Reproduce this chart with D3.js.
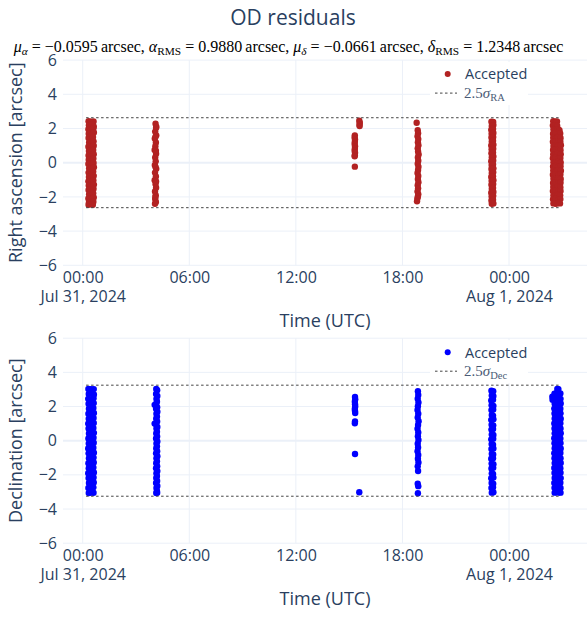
<!DOCTYPE html>
<html><head><meta charset="utf-8">
<script src="https://cdn.jsdelivr.net/npm/d3@7"></script>
<style>body{margin:0;background:#fff}svg{display:block}</style>
</head><body>
<svg id="chart" width="587" height="618"></svg>
<script>
// ---------- DATA (hours since 2024-07-31 00:00 UTC, residual in arcsec) ----------
const raPass1 = [[0.33,2.42],[0.47,2.40],[0.61,2.41],[0.35,2.19],[0.50,2.25],[0.62,2.12],[0.32,1.96],[0.45,1.88],[0.60,2.01],[0.34,1.70],[0.52,1.62],[0.63,1.77],[0.33,1.45],[0.48,1.38],[0.58,1.51],[0.36,1.18],[0.46,1.09],[0.61,1.25],[0.32,0.93],[0.51,0.86],[0.62,0.99],[0.35,0.68],[0.44,0.60],[0.59,0.74],[0.33,0.42],[0.49,0.35],[0.62,0.50],[0.34,0.17],[0.47,0.09],[0.60,0.24],[0.32,-0.08],[0.53,-0.15],[0.61,-0.02],[0.36,-0.33],[0.45,-0.41],[0.63,-0.27],[0.33,-0.58],[0.50,-0.66],[0.59,-0.52],[0.35,-0.84],[0.47,-0.91],[0.62,-0.77],[0.32,-1.09],[0.52,-1.15],[0.60,-1.02],[0.34,-1.34],[0.46,-1.41],[0.63,-1.28],[0.33,-1.59],[0.49,-1.66],[0.61,-1.53],[0.36,-1.84],[0.45,-1.92],[0.59,-1.78],[0.32,-2.09],[0.51,-2.16],[0.62,-2.03],[0.35,-2.33],[0.48,-2.42],[0.60,-2.28],[0.33,-2.46],[0.57,-2.46]];
const raPass2 = [[4.10,2.28],[4.13,2.05],[4.08,1.82],[4.14,1.60],[4.06,1.41],[4.12,1.18],[4.09,0.96],[4.05,0.74],[4.13,0.52],[4.08,0.30],[4.11,0.08],[4.06,-0.14],[4.14,-0.36],[4.07,-0.58],[4.12,-0.80],[4.05,-1.02],[4.10,-1.24],[4.13,-1.46],[4.07,-1.68],[4.11,-1.90],[4.08,-2.12],[4.12,-2.30],[4.07,-2.40],[4.14,2.10],[4.09,1.50],[4.12,0.70],[4.10,-0.25],[4.13,-1.10],[4.09,-2.00]];
const raPass3 = [[15.57,2.45],[15.60,2.34],[15.58,2.22],[15.59,2.14],[15.32,1.60],[15.31,1.48],[15.33,1.36],[15.32,1.22],[15.31,1.10],[15.33,0.96],[15.32,0.82],[15.31,0.70],[15.33,0.58],[15.32,0.44],[15.31,0.38],[15.32,-0.23]];
const raPass4 = [[18.80,2.34],[18.86,1.90],[18.88,1.72],[18.85,1.55],[18.89,1.38],[18.87,1.20],[18.90,1.02],[18.86,0.84],[18.88,0.66],[18.91,0.48],[18.87,0.30],[18.89,0.12],[18.86,-0.06],[18.90,-0.24],[18.88,-0.42],[18.85,-0.60],[18.89,-0.78],[18.87,-0.96],[18.90,-1.14],[18.86,-1.32],[18.88,-1.50],[18.85,-1.68],[18.89,-1.84],[18.87,-1.98],[18.84,-2.10],[18.82,-2.26]];
const raPass5 = [[23.01,2.40],[23.11,2.38],[23.03,2.15],[23.12,2.20],[23.00,1.92],[23.10,1.97],[23.02,1.70],[23.12,1.74],[23.01,1.47],[23.11,1.51],[23.03,1.24],[23.10,1.28],[23.00,1.01],[23.12,1.05],[23.02,0.78],[23.11,0.82],[23.01,0.55],[23.10,0.59],[23.03,0.32],[23.12,0.36],[23.00,0.09],[23.11,0.13],[23.02,-0.14],[23.10,-0.10],[23.01,-0.37],[23.12,-0.33],[23.03,-0.60],[23.11,-0.56],[23.00,-0.83],[23.10,-0.79],[23.02,-1.06],[23.12,-1.02],[23.01,-1.29],[23.11,-1.25],[23.03,-1.52],[23.10,-1.48],[23.00,-1.75],[23.12,-1.71],[23.02,-1.98],[23.11,-1.94],[23.01,-2.21],[23.10,-2.17],[23.03,-2.40],[23.12,-2.38]];
const raPass6 = [[26.49,2.42],[26.60,2.40],[26.70,2.41],[26.47,2.18],[26.61,2.20],[26.71,2.16],[26.50,1.94],[26.63,1.92],[26.76,1.96],[26.84,1.90],[26.48,1.70],[26.62,1.73],[26.77,1.68],[26.88,1.71],[26.49,1.46],[26.64,1.44],[26.75,1.48],[26.90,1.45],[26.47,1.22],[26.61,1.25],[26.78,1.20],[26.89,1.23],[26.50,0.98],[26.63,0.96],[26.76,1.00],[26.92,1.02],[26.48,0.74],[26.62,0.77],[26.77,0.72],[26.90,0.75],[26.49,0.50],[26.64,0.48],[26.75,0.52],[26.91,0.49],[26.47,0.26],[26.61,0.29],[26.78,0.24],[26.89,0.27],[26.50,0.02],[26.63,0.00],[26.76,0.04],[26.91,0.01],[26.48,-0.22],[26.62,-0.19],[26.77,-0.24],[26.90,-0.21],[26.49,-0.46],[26.64,-0.48],[26.75,-0.44],[26.92,-0.47],[26.47,-0.70],[26.61,-0.67],[26.78,-0.72],[26.89,-0.69],[26.50,-0.94],[26.63,-0.96],[26.76,-0.92],[26.91,-0.95],[26.48,-1.18],[26.62,-1.15],[26.77,-1.20],[26.90,-1.17],[26.49,-1.42],[26.64,-1.44],[26.75,-1.40],[26.89,-1.43],[26.47,-1.66],[26.61,-1.63],[26.78,-1.68],[26.90,-1.65],[26.50,-1.90],[26.63,-1.92],[26.76,-1.88],[26.88,-1.91],[26.48,-2.14],[26.62,-2.11],[26.77,-2.16],[26.89,-2.13],[26.50,-2.38],[26.64,-2.40],[26.78,-2.36],[26.87,-2.38]];

const decPass1 = [[0.32,3.03],[0.47,3.01],[0.62,3.02],[0.34,2.74],[0.49,2.78],[0.63,2.71],[0.31,2.45],[0.46,2.40],[0.61,2.49],[0.33,2.16],[0.51,2.12],[0.62,2.20],[0.35,1.87],[0.45,1.82],[0.60,1.91],[0.32,1.58],[0.48,1.53],[0.63,1.62],[0.34,1.29],[0.50,1.24],[0.61,1.33],[0.31,1.00],[0.46,0.95],[0.62,1.04],[0.33,0.71],[0.52,0.66],[0.60,0.75],[0.35,0.42],[0.47,0.37],[0.63,0.46],[0.32,0.13],[0.49,0.08],[0.61,0.17],[0.34,-0.16],[0.45,-0.21],[0.62,-0.12],[0.31,-0.45],[0.50,-0.50],[0.60,-0.41],[0.33,-0.74],[0.48,-0.79],[0.63,-0.70],[0.35,-1.03],[0.46,-1.08],[0.61,-0.99],[0.32,-1.32],[0.51,-1.37],[0.62,-1.28],[0.34,-1.61],[0.47,-1.66],[0.60,-1.57],[0.31,-1.90],[0.49,-1.95],[0.63,-1.86],[0.33,-2.19],[0.45,-2.24],[0.61,-2.15],[0.35,-2.48],[0.50,-2.53],[0.62,-2.44],[0.32,-2.77],[0.48,-2.82],[0.60,-2.73],[0.34,-3.06],[0.47,-3.04],[0.61,-3.05]];
const decPass2 = [[4.14,3.03],[4.19,2.95],[4.13,2.74],[4.20,2.62],[4.15,2.45],[4.18,2.30],[4.05,2.10],[4.14,2.16],[4.19,1.96],[4.13,1.87],[4.20,1.70],[4.15,1.58],[4.18,1.41],[4.14,1.29],[4.19,1.12],[4.05,1.00],[4.13,0.96],[4.20,0.80],[4.15,0.71],[4.18,0.52],[4.14,0.42],[4.19,0.25],[4.13,0.13],[4.20,-0.04],[4.15,-0.16],[4.18,-0.33],[4.14,-0.45],[4.19,-0.62],[4.13,-0.74],[4.20,-0.91],[4.15,-1.03],[4.18,-1.20],[4.14,-1.32],[4.19,-1.49],[4.13,-1.61],[4.20,-1.78],[4.15,-1.90],[4.18,-2.07],[4.14,-2.19],[4.19,-2.36],[4.13,-2.48],[4.20,-2.65],[4.15,-2.77],[4.18,-2.94],[4.14,-3.06],[4.19,-3.04]];
const decPass3 = [[15.33,2.56],[15.34,2.42],[15.32,2.28],[15.33,2.14],[15.34,2.00],[15.32,1.86],[15.33,1.74],[15.34,1.62],[15.33,1.12],[15.32,1.02],[15.33,-0.78],[15.57,-3.02]];
const decPass4 = [[18.87,2.90],[18.89,2.68],[18.86,2.46],[18.90,2.24],[18.87,2.02],[18.85,1.80],[18.89,1.58],[18.86,1.36],[18.91,1.14],[18.88,0.92],[18.85,0.70],[18.89,0.48],[18.87,0.26],[18.90,0.04],[18.86,-0.18],[18.88,-0.40],[18.85,-0.62],[18.89,-0.84],[18.87,-1.06],[18.90,-1.28],[18.86,-1.50],[18.88,-1.77],[18.86,-2.52],[18.89,-2.66],[18.87,-3.08]];
const decPass5 = [[23.01,2.93],[23.11,2.90],[23.03,2.65],[23.12,2.61],[23.00,2.36],[23.10,2.40],[23.02,2.08],[23.12,2.04],[23.01,1.79],[23.11,1.83],[23.03,1.51],[23.10,1.47],[23.00,1.22],[23.12,1.26],[23.02,0.94],[23.11,0.90],[23.01,0.65],[23.10,0.69],[23.03,0.37],[23.12,0.33],[23.00,0.08],[23.11,0.12],[23.02,-0.20],[23.10,-0.24],[23.01,-0.49],[23.12,-0.45],[23.03,-0.77],[23.11,-0.81],[23.00,-1.06],[23.10,-1.02],[23.02,-1.34],[23.12,-1.38],[23.01,-1.63],[23.11,-1.59],[23.03,-1.91],[23.10,-1.95],[23.00,-2.20],[23.12,-2.16],[23.02,-2.48],[23.11,-2.52],[23.01,-2.77],[23.10,-2.73],[23.03,-3.04],[23.12,-3.02]];
const decPass6 = [[26.72,3.03],[26.78,3.02],[26.44,2.58],[26.45,2.40],[26.56,2.75],[26.67,2.78],[26.79,2.72],[26.89,2.76],[26.55,2.46],[26.68,2.43],[26.78,2.49],[26.90,2.45],[26.57,2.17],[26.66,2.20],[26.80,2.14],[26.91,2.18],[26.55,1.88],[26.67,1.85],[26.79,1.91],[26.89,1.87],[26.56,1.59],[26.68,1.62],[26.78,1.56],[26.90,1.60],[26.57,1.30],[26.66,1.27],[26.80,1.33],[26.91,1.29],[26.55,1.01],[26.67,1.04],[26.79,0.98],[26.89,1.02],[26.56,0.72],[26.68,0.69],[26.78,0.75],[26.90,0.71],[26.57,0.43],[26.66,0.46],[26.80,0.40],[26.91,0.44],[26.55,0.14],[26.67,0.11],[26.79,0.17],[26.89,0.13],[26.56,-0.15],[26.68,-0.12],[26.78,-0.18],[26.90,-0.14],[26.57,-0.44],[26.66,-0.47],[26.80,-0.41],[26.91,-0.45],[26.55,-0.73],[26.67,-0.70],[26.79,-0.76],[26.89,-0.72],[26.56,-1.02],[26.68,-1.05],[26.78,-0.99],[26.90,-1.03],[26.57,-1.31],[26.66,-1.28],[26.80,-1.34],[26.91,-1.30],[26.55,-1.60],[26.67,-1.63],[26.79,-1.57],[26.89,-1.61],[26.56,-1.89],[26.68,-1.86],[26.78,-1.92],[26.90,-1.88],[26.57,-2.18],[26.66,-2.21],[26.80,-2.15],[26.91,-2.19],[26.55,-2.47],[26.67,-2.44],[26.79,-2.50],[26.89,-2.46],[26.56,-2.76],[26.68,-2.79],[26.78,-2.73],[26.90,-2.77],[26.57,-3.04],[26.66,-3.02],[26.80,-3.03],[26.90,-3.04]];

const raThreshold = 2.63;       // 2.5 sigma RA band (arcsec)
const decThreshold = 3.25;      // 2.5 sigma Dec band (arcsec)
const bandSpan = [0.19, 26.83]; // hours covered by the dotted band lines

const xDomainHours = [-1.11, 28.39];
const xTickHours = [0, 6, 12, 18, 24];
const xTickLabels = ["00:00\nJul 31, 2024", "06:00", "12:00", "18:00", "00:00\nAug 1, 2024"];
const yTicks = [-6, -4, -2, 0, 2, 4, 6];
const yDomain = [-6, 6];

const titleText = "OD residuals";
const legendNames = ["Accepted"];
// ---------------------------------------------------------------------------------

const H = 3600e3, T0 = Date.UTC(2024, 6, 31);
const toDate = h => new Date(T0 + h * H);
const svg = d3.select("#chart");
const FONT = "'Open Sans', Verdana, Arial, sans-serif";
const SERIF = "'Liberation Serif', 'Times New Roman', serif";
const INK = "#2a3f5f";
const GRID = "#EBF0F8";

const x = d3.scaleUtc().domain(xDomainHours.map(toDate)).range([63, 587]);

svg.append("rect").attr("width", 587).attr("height", 618).attr("fill", "#fff");

// Title
svg.append("text").attr("x", 293).attr("y", 25).attr("text-anchor", "middle")
  .attr("font-family", FONT).attr("font-size", 21).attr("fill", INK).text(titleText);

// Subtitle (math-like)
const sub = svg.append("text").attr("x", 288.5).attr("y", 52).attr("text-anchor", "middle")
  .attr("font-family", SERIF).attr("font-size", 16).attr("fill", "#000");
function mathPiece(sym, subscr, subItalic, rest) {
  sub.append("tspan").attr("font-style", "italic").text(sym);
  sub.append("tspan").attr("font-style", subItalic ? "italic" : "normal").attr("font-size", 11.3)
    .attr("dy", 3).text(subscr);
  sub.append("tspan").attr("dy", -3).text(rest);
}
mathPiece("μ", "α", true, " = −0.0595\u2009arcsec, ");
mathPiece("α", "RMS", false, " = 0.9880\u2009arcsec, ");
mathPiece("μ", "δ", true, " = −0.0661\u2009arcsec, ");
mathPiece("δ", "RMS", false, " = 1.2348\u2009arcsec");

const panels = [
  { top: 60.1, bottom: 265.3, passes: [raPass1, raPass2, raPass3, raPass4, raPass5, raPass6],
    color: "#B22222", thr: raThreshold, yTitle: "Right ascension [arcsec]", sigSub: "RA" },
  { top: 338.2, bottom: 543.2, passes: [decPass1, decPass2, decPass3, decPass4, decPass5, decPass6],
    color: "#0000FF", thr: decThreshold, yTitle: "Declination [arcsec]", sigSub: "Dec" }
];

panels.forEach(p => {
  const y = d3.scaleLinear().domain(yDomain).range([p.bottom, p.top]);
  const g = svg.append("g");

  // grid
  g.selectAll(".hg").data(yTicks).join("line")
    .attr("x1", 63).attr("x2", 587).attr("y1", d => y(d)).attr("y2", d => y(d))
    .attr("stroke", GRID).attr("stroke-width", d => d === 0 ? 2 : 1);
  g.selectAll(".vg").data(xTickHours).join("line")
    .attr("x1", d => x(toDate(d))).attr("x2", d => x(toDate(d)))
    .attr("y1", p.top).attr("y2", p.bottom).attr("stroke", GRID).attr("stroke-width", 1);

  // points
  const pts = p.passes.flat();
  g.append("g").selectAll("circle").data(pts).join("circle")
    .attr("cx", d => x(toDate(d[0]))).attr("cy", d => y(d[1])).attr("r", 3.2)
    .attr("fill", p.color);

  // threshold lines
  [p.thr, -p.thr].forEach(t => {
    g.append("line").attr("x1", x(toDate(bandSpan[0]))).attr("x2", x(toDate(bandSpan[1])))
      .attr("y1", y(t)).attr("y2", y(t)).attr("stroke", "#444").attr("stroke-width", 1)
      .attr("stroke-dasharray", "2.5,2.5");
  });

  // y axis
  const ya = g.append("g").attr("transform", "translate(63,0)")
    .call(d3.axisLeft(y).tickValues(yTicks).tickSize(0).tickPadding(6).tickFormat(d3.format("d")));
  ya.select(".domain").remove();
  ya.selectAll("text").attr("font-family", FONT).attr("font-size", 16).attr("fill", INK);

  // x axis
  const xa = g.append("g").attr("transform", `translate(0,${p.bottom})`)
    .call(d3.axisBottom(x).tickValues(xTickHours.map(toDate)).tickSize(0).tickPadding(6)
      .tickFormat((d, i) => xTickLabels[i]));
  xa.select(".domain").remove();
  xa.selectAll("text").attr("font-family", FONT).attr("font-size", 16).attr("fill", INK)
    .each(function () {
      const t = d3.select(this); const lines = t.text().split("\n"); t.text(null);
      lines.forEach((l, k) => t.append("tspan").attr("x", 0).attr("dy", k === 0 ? "0.71em" : "1.23em").text(l));
    }).attr("dy", null);

  // axis titles
  g.append("text").attr("x", 325).attr("y", p.bottom + 62).attr("text-anchor", "middle")
    .attr("font-family", FONT).attr("font-size", 18).attr("fill", INK).text("Time (UTC)");
  g.append("text").attr("transform", `translate(21.5,${(p.top + p.bottom) / 2}) rotate(-90)`)
    .attr("text-anchor", "middle").attr("font-family", FONT).attr("font-size", 18).attr("fill", INK)
    .text(p.yTitle);

  // legend
  const lg = g.append("g");
  lg.append("rect").attr("x", 430).attr("y", p.top + 2).attr("width", 98).attr("height", 43).attr("fill", "#fff");
  lg.append("circle").attr("cx", 447.7).attr("cy", p.top + 14).attr("r", 3).attr("fill", p.color);
  lg.append("text").attr("x", 465).attr("y", p.top + 19.3).attr("font-family", FONT).attr("font-size", 14.5)
    .attr("fill", INK).text(legendNames[0]);
  lg.append("line").attr("x1", 435).attr("x2", 457).attr("y1", p.top + 33).attr("y2", p.top + 33)
    .attr("stroke", "#444").attr("stroke-width", 1).attr("stroke-dasharray", "2.5,2.5");
  const st = lg.append("text").attr("x", 464).attr("y", p.top + 38).attr("font-family", SERIF)
    .attr("font-size", 15).attr("fill", "#4a5a75");
  st.append("tspan").text("2.5");
  st.append("tspan").attr("font-style", "italic").text("σ");
  st.append("tspan").attr("font-size", 10.5).attr("dy", 3).text(p.sigSub);
});
</script>
</body></html>
